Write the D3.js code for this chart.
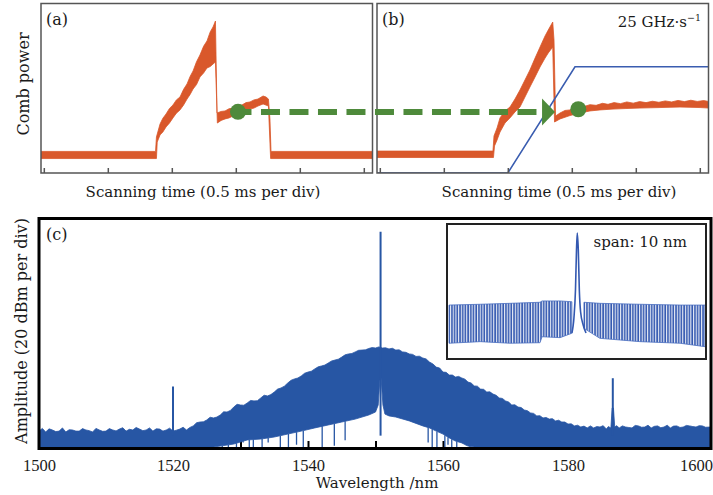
<!DOCTYPE html>
<html>
<head>
<meta charset="utf-8">
<script src="https://cdn.jsdelivr.net/npm/d3@7"></script>
<style>
  html, body { margin: 0; padding: 0; background: #fff; }
  svg { display: block; font-family: "DejaVu Serif", "Liberation Serif", serif; }
</style>
</head>
<body>
<svg id="fig" width="713" height="495"></svg>
<script>
// ---------------- data ----------------
// scanning-time axis (ms), one tick per 0.5 ms division
const scanTicks = [0, 0.5, 1, 1.5, 2, 2.5];

// (a) comb power trace, drawn as the band between its upper and lower noise edges (a.u.)
const aUpT = [-0.022, 0.873, 0.880, 0.908, 0.930, 0.955, 0.982, 1.009, 1.036, 1.064, 1.092, 1.119, 1.143, 1.166, 1.193, 1.220, 1.248, 1.275, 1.300, 1.322, 1.341, 1.353, 1.385, 1.416, 1.447, 1.478, 1.513, 1.548, 1.580, 1.611, 1.642, 1.673, 1.713, 1.736, 1.755, 1.767, 1.775, 2.568];
const aUpV = [0.127, 0.127, 0.212, 0.288, 0.322, 0.347, 0.380, 0.400, 0.430, 0.447, 0.492, 0.524, 0.568, 0.600, 0.654, 0.694, 0.745, 0.777, 0.830, 0.859, 0.894, 0.353, 0.362, 0.365, 0.378, 0.382, 0.394, 0.400, 0.414, 0.418, 0.430, 0.435, 0.453, 0.447, 0.435, 0.312, 0.127, 0.127];
const aLoT = [-0.022, 0.880, 0.886, 0.908, 0.930, 0.955, 0.982, 1.009, 1.036, 1.064, 1.092, 1.119, 1.143, 1.166, 1.193, 1.220, 1.248, 1.275, 1.300, 1.322, 1.341, 1.356, 1.385, 1.416, 1.447, 1.478, 1.513, 1.548, 1.580, 1.611, 1.642, 1.673, 1.713, 1.755, 1.772, 2.568];
const aLoV = [0.085, 0.085, 0.182, 0.224, 0.241, 0.271, 0.294, 0.324, 0.352, 0.371, 0.400, 0.435, 0.462, 0.494, 0.520, 0.565, 0.588, 0.618, 0.626, 0.641, 0.653, 0.294, 0.309, 0.318, 0.324, 0.335, 0.347, 0.359, 0.366, 0.376, 0.382, 0.394, 0.406, 0.394, 0.085, 0.085];

// (b) comb power trace with the 25 GHz/s pump sweep
const bUpT = [-0.022, 0.884, 0.892, 0.916, 0.939, 0.978, 1.017, 1.056, 1.095, 1.134, 1.173, 1.213, 1.252, 1.291, 1.316, 1.351, 1.361, 1.373, 1.408, 1.447, 1.486, 1.525, 1.564, 1.600, 1.642, 1.690, 1.740, 1.783, 1.830, 1.880, 1.930, 1.980, 2.030, 2.080, 2.130, 2.180, 2.230, 2.280, 2.330, 2.380, 2.430, 2.480, 2.530, 2.568];
const bUpV = [0.129, 0.129, 0.218, 0.265, 0.324, 0.365, 0.388, 0.435, 0.488, 0.547, 0.606, 0.676, 0.741, 0.806, 0.841, 0.888, 0.782, 0.335, 0.353, 0.368, 0.371, 0.384, 0.388, 0.392, 0.402, 0.398, 0.410, 0.404, 0.414, 0.408, 0.418, 0.411, 0.420, 0.414, 0.422, 0.416, 0.424, 0.418, 0.427, 0.420, 0.428, 0.421, 0.426, 0.421];
const bLoT = [-0.022, 0.888, 0.896, 0.916, 0.939, 0.978, 1.017, 1.056, 1.095, 1.134, 1.173, 1.213, 1.252, 1.291, 1.316, 1.351, 1.365, 1.408, 1.486, 1.564, 1.642, 1.720, 1.822, 1.916, 2.033, 2.189, 2.345, 2.502, 2.568];
const bLoV = [0.091, 0.091, 0.159, 0.194, 0.241, 0.294, 0.324, 0.359, 0.388, 0.447, 0.506, 0.565, 0.624, 0.676, 0.706, 0.741, 0.300, 0.318, 0.338, 0.353, 0.365, 0.371, 0.376, 0.379, 0.382, 0.385, 0.388, 0.385, 0.382];

// pump frequency sweep (a.u.)
const rampT = [-0.022, 1.0, 1.525, 2.568];
const rampV = [0, 0, 0.625, 0.625];

// soliton-step markers and the transfer arrow
const dotA = { t: 1.517, v: 0.360 };
const dotB = { t: 1.551, v: 0.375 };
const arrowTipT = 1.369;
const arrowV = 0.359;

// (c) optical spectrum: wavelength ticks (nm) and where the axis places them
const wlTicks = [1500, 1520, 1540, 1560, 1580, 1600];
const wlMinor = [1510, 1530, 1550, 1570, 1590];
const wlTickPos = [39, 173, 308, 443, 568, 696];

// upper edge of the comb spectrum [nm, dBm]
const specUpper = [
  [1500, -93.0], [1500.5, -91.8], [1501, -93.4], [1501.5, -92.0], [1502, -92.5], [1502.5, -93.2],
  [1503, -93.0], [1503.5, -91.6], [1504, -93.4], [1504.5, -92.4], [1505, -92.5], [1505.5, -93.0],
  [1506, -93.0], [1506.5, -91.9], [1507, -92.5], [1507.5, -92.8], [1508, -93.4], [1508.5, -91.8],
  [1509, -92.5], [1509.5, -93.1], [1510, -93.0], [1510.5, -91.9], [1511, -92.5], [1511.5, -92.9],
  [1512, -92.1], [1512.5, -91.5], [1513, -93.0], [1513.5, -92.2], [1514, -92.5], [1514.5, -91.4],
  [1515, -92.1], [1515.5, -92.8], [1516, -92.5], [1516.5, -91.6], [1517, -93.0], [1517.5, -92.0],
  [1518, -92.1], [1518.5, -93.0], [1519, -92.5], [1519.5, -91.7], [1520, -93.0], [1520.5, -92.6],
  [1521, -92.1], [1521.5, -91.3], [1522, -92.5], [1522.5, -91.4], [1523, -90.7], [1523.5, -89.3],
  [1524, -89.0], [1524.5, -88.9], [1525, -88.1], [1525.5, -86.9], [1526, -87.2], [1526.5, -86.8],
  [1527, -85.9], [1527.5, -84.5], [1528, -84.6], [1528.5, -83.9], [1529, -82.4], [1529.5, -81.2],
  [1530, -81.5], [1530.5, -81.6], [1531, -80.6], [1531.5, -79.5], [1532, -79.7], [1532.5, -79.6],
  [1533, -78.4], [1533.5, -77.2], [1534, -77.5], [1534.5, -76.9], [1535, -75.8], [1535.5, -74.5],
  [1536, -74.0], [1536.5, -73.2], [1537, -71.8], [1537.5, -70.6], [1538, -70.0], [1538.5, -69.6],
  [1539, -68.7], [1539.5, -67.5], [1540, -67.0], [1540.5, -66.6], [1541, -65.6], [1541.5, -64.7],
  [1542, -64.3], [1542.5, -63.9], [1543, -63.0], [1543.5, -62.1], [1544, -61.7], [1544.5, -61.3],
  [1545, -60.4], [1545.5, -59.4], [1546, -59.0], [1546.5, -58.8], [1547, -58.1], [1547.5, -57.4],
  [1548, -57.3], [1548.5, -57.2], [1549, -56.6], [1549.5, -56.2], [1550, -56.4], [1550.5, -55.9],
  [1551, -56.4], [1551.5, -56.3], [1552, -56.8], [1552.5, -56.5], [1553, -57.3], [1553.5, -57.2],
  [1554, -58.1], [1554.5, -58.3], [1555, -59.0], [1555.5, -59.2], [1556, -60.1], [1556.5, -60.0],
  [1557, -60.8], [1557.5, -61.2], [1558, -62.6], [1558.5, -63.4], [1559, -64.8], [1559.5, -65.2],
  [1560, -67.0], [1560.5, -67.1], [1561, -68.3], [1561.5, -68.3], [1562, -69.2], [1562.5, -68.9],
  [1563, -69.6], [1563.5, -70.1], [1564, -71.4], [1564.5, -71.8], [1565, -73.1], [1565.5, -73.2],
  [1566, -74.5], [1566.5, -74.6], [1567, -75.8], [1567.5, -75.7], [1568, -76.7], [1568.5, -77.2],
  [1569, -78.4], [1569.5, -78.6], [1570, -79.7], [1570.5, -80.2], [1571, -81.5], [1571.5, -81.4],
  [1572, -82.4], [1572.5, -82.6], [1573, -83.7], [1573.5, -84.0], [1574, -85.0], [1574.5, -85.2],
  [1575, -86.3], [1575.5, -86.2], [1576, -87.2], [1576.5, -87.0], [1577, -87.7], [1577.5, -87.5],
  [1578, -88.5], [1578.5, -88.2], [1579, -89.0], [1579.5, -89.0], [1580, -89.9], [1580.5, -89.8],
  [1581, -90.7], [1581.5, -90.4], [1582, -91.2], [1582.5, -90.8], [1583, -91.6], [1583.5, -90.7],
  [1584, -91.6], [1584.5, -91.0], [1585, -91.2], [1585.5, -90.6], [1586, -92.1], [1586.3, -91.0],
  [1586.7, -91.6], [1586.9, -82.8], [1587.1, -82.8], [1587.3, -91.2], [1587.6, -90.6], [1588, -91.6],
  [1588.5, -90.7], [1589, -91.2], [1589.5, -91.4], [1590, -91.6], [1590.5, -90.5], [1591, -90.7],
  [1591.5, -91.3], [1592, -91.2], [1592.5, -90.4], [1593, -91.6], [1593.5, -90.9], [1594, -90.7],
  [1594.5, -91.5], [1595, -91.2], [1595.5, -90.4], [1596, -91.6], [1596.5, -90.8], [1597, -90.7],
  [1597.5, -91.4], [1598, -91.2], [1598.5, -90.5], [1599, -90.7], [1599.5, -91.0], [1600, -91.2],
  [1600.5, -90.6], [1601, -90.7], [1601.5, -91.3], [1602.2, -91.2]
];
// lower edge of the comb spectrum [nm, dBm]; -100 means the trace reaches the bottom of the plot
const specLower = [
  [1500, -100], [1526, -100], [1527, -99.6], [1529, -98.7], [1531, -96.9], [1533, -96.5],
  [1535, -95.6], [1537, -94.3], [1539, -93.0], [1541, -91.6], [1543, -90.3], [1545, -89.0],
  [1547, -87.7], [1548, -86.8], [1549, -85.9], [1550, -84.6], [1550.4, -81.5], [1550.6, -72.7],
  [1550.75, -67.0], [1550.9, -72.7], [1551.1, -81.5], [1551.4, -85.5], [1552, -86.3], [1553, -86.8],
  [1555, -88.5], [1557, -90.7], [1558, -91.6], [1559, -93.0], [1560, -94.3], [1561, -96.0],
  [1562, -97.4], [1563, -98.2], [1564, -99.6], [1565, -100], [1602.2, -100]
];
// drop-outs of the trace below its lower edge [nm, dBm reached]
const dropouts = [
  [1527.3, -100], [1528.2, -100], [1529.4, -100], [1530.4, -98], [1531.3, -100], [1531.9, -100],
  [1533.2, -100], [1534.1, -98], [1535.9, -100], [1537.1, -100], [1538.3, -99], [1539.3, -100],
  [1542.1, -100], [1543.9, -99.5], [1545.5, -97], [1557.8, -98], [1558.4, -100], [1559.1, -100],
  [1560.3, -100], [1560.8, -99], [1561.4, -100], [1562.2, -100], [1563.7, -99], [1564.3, -100], [1565.0, -100]
];
// narrow lines: auxiliary mode, pump, auxiliary mode [nm, dBm]
const spikes = [[1520.0, -73.4], [1550.75, -5.2], [1587.0, -69.7]];

// inset: 10 nm span around the pump
const insetDomain = [1545.8, 1555.8];
const inLeftL = [1545.84, 1547.05, 1548.21, 1549.38, 1549.46, 1550.16, 1550.62];
const inLeftUp = [-60.2, -59.6, -58.9, -58.1, -57.1, -57.1, -57.7];
const inLeftLo = [-88.9, -87.7, -88.9, -88.5, -84.0, -84.7, -81.4];
const inRightL = [1551.09, 1551.71, 1553.27, 1554.83, 1555.8];
const inRightUp = [-58.1, -58.9, -59.6, -60.2, -60.2];
const inRightLo = [-77.7, -85.2, -87.7, -88.9, -91.5];
const inPumpL = [1550.62, 1550.70, 1550.76, 1550.80, 1550.83, 1550.87, 1550.91, 1550.96, 1551.06, 1551.17];
const inPumpV = [-81.2, -69.9, -48.9, -18.8, -6.0, -18.8, -48.9, -65.4, -75.2, -81.2];

// ---------------- drawing ----------------
const ORANGE = "#d9582b", GREEN = "#4e8a3b", BLUE = "#2756a4", RAMP = "#3a5db0", INK = "#1a1a1a";
const svg = d3.select("#fig");
const defs = svg.append("defs");

const band = (x, y, tU, vU, tL, vL) => {
  const pts = tU.map((t, i) => [x(t), y(vU[i])])
    .concat(tL.map((t, i) => [x(t), y(vL[i])]).reverse());
  return d3.line()(pts) + "Z";
};

// ---- scan panels (a), (b)
const timeDomain = [-0.022, 2.568];
const xA = d3.scaleLinear().domain(timeDomain).range([41, 372.5]);
const xB = d3.scaleLinear().domain(timeDomain).range([377, 708.5]);
const yP = d3.scaleLinear().domain([0, 1]).range([173, 3]);

function scanPanel(id, x, upT, upV, loT, loV) {
  const [x0, x1] = x.range();
  defs.append("clipPath").attr("id", "clip-" + id)
    .append("rect").attr("x", x0).attr("y", 3.5).attr("width", x1 - x0).attr("height", 169.5);
  const g = svg.append("g").attr("clip-path", `url(#clip-${id})`);
  g.append("path").attr("d", band(x, yP, upT, upV, loT, loV))
    .attr("fill", ORANGE).attr("stroke", ORANGE).attr("stroke-width", 0.8)
    .attr("stroke-linejoin", "round");
  return g;
}

const gA = scanPanel("a", xA, aUpT, aUpV, aLoT, aLoV);
const gB = scanPanel("b", xB, bUpT, bUpV, bLoT, bLoV);

gB.append("path")
  .attr("d", d3.line().x((d, i) => xB(rampT[i])).y(d => yP(d))(rampV))
  .attr("fill", "none").attr("stroke", RAMP).attr("stroke-width", 1.6);

[xA, xB].forEach(x => {
  const [x0, x1] = x.range();
  svg.append("rect").attr("x", x0).attr("y", 3.5).attr("width", x1 - x0).attr("height", 169.5)
    .attr("fill", "none").attr("stroke", "#555").attr("stroke-width", 1.5);
  const ax = svg.append("g").attr("transform", "translate(0,173)")
    .call(d3.axisBottom(x).tickValues(scanTicks).tickSize(-5).tickFormat(""));
  ax.select(".domain").remove();
  ax.selectAll(".tick line").attr("stroke", "#555").attr("stroke-width", 1.5);
});

// transfer arrow from (a) to (b)
const yArrow = yP(arrowV);
const tipX = xB(arrowTipT);
svg.append("line")
  .attr("x1", xA(dotA.t)).attr("x2", tipX - 12)
  .attr("y1", yArrow).attr("y2", yArrow)
  .attr("stroke", GREEN).attr("stroke-width", 6)
  .attr("stroke-dasharray", "19 9.5").attr("stroke-dashoffset", 5.5);
svg.append("path")
  .attr("d", d3.line()([[tipX, yArrow], [tipX - 13, yArrow - 13.5], [tipX - 13, yArrow + 13.5]]) + "Z")
  .attr("fill", GREEN);
svg.append("circle").attr("cx", xA(dotA.t)).attr("cy", yP(dotA.v)).attr("r", 8).attr("fill", GREEN);
svg.append("circle").attr("cx", xB(dotB.t)).attr("cy", yP(dotB.v)).attr("r", 8).attr("fill", GREEN);

const label = (x, y, s, size, anchor) => svg.append("text")
  .attr("x", x).attr("y", y).attr("font-size", size).attr("fill", INK)
  .attr("text-anchor", anchor || "start").text(s);

label(46, 25, "(a)", 16);
label(382, 25, "(b)", 16);
const rate = svg.append("text").attr("x", 701).attr("y", 27).attr("font-size", 15)
  .attr("fill", INK).attr("text-anchor", "end");
rate.append("tspan").text("25 GHz\u00b7s");
rate.append("tspan").attr("dy", -6).attr("font-size", 9.5).text("\u22121");

label(203, 197, "Scanning time (0.5 ms per div)", 15, "middle");
label(559, 197, "Scanning time (0.5 ms per div)", 15, "middle");
svg.append("text").attr("transform", "translate(29,84) rotate(-90)")
  .attr("text-anchor", "middle").attr("font-size", 16).attr("fill", INK).text("Comb power");

// ---- spectrum panel (c)
const xC = d3.scaleLinear().domain(wlTicks).range(wlTickPos);
const yC = d3.scaleLinear().domain([-100, 0]).range([447, 220]);

defs.append("clipPath").attr("id", "clip-c")
  .append("rect").attr("x", 40).attr("y", 219.5).attr("width", 670).attr("height", 227.5);

// inward ticks sit beneath the trace
const tk = svg.append("g").attr("transform", "translate(0,447)")
  .call(d3.axisBottom(xC).tickValues(wlTicks.concat(wlMinor)).tickSize(-6).tickFormat(""));
tk.select(".domain").remove();
tk.selectAll(".tick line").attr("stroke", "#000").attr("stroke-width", 2);

const gC = svg.append("g").attr("clip-path", "url(#clip-c)");
const edge = d3.line().x(d => xC(d[0])).y(d => yC(d[1]));
gC.append("path").attr("d", edge(specUpper.concat(specLower.slice().reverse())) + "Z")
  .attr("fill", BLUE).attr("stroke", BLUE).attr("stroke-width", 0.8);

const loAt = d3.scaleLinear().domain(specLower.map(d => d[0])).range(specLower.map(d => d[1]));
gC.selectAll("line.drop").data(dropouts).join("line").attr("class", "drop")
  .attr("x1", d => xC(d[0])).attr("x2", d => xC(d[0]))
  .attr("y1", d => yC(loAt(d[0]))).attr("y2", d => yC(d[1]))
  .attr("stroke", BLUE).attr("stroke-width", 1.3);

gC.selectAll("line.spike").data(spikes).join("line").attr("class", "spike")
  .attr("x1", d => xC(d[0])).attr("x2", d => xC(d[0]))
  .attr("y1", yC(-95)).attr("y2", d => yC(d[1]))
  .attr("stroke", BLUE).attr("stroke-width", 2);

// inset
const xI = d3.scaleLinear().domain(insetDomain).range([448, 705]);
const yI = d3.scaleLinear().domain([-100, 0]).range([358, 225]);
const pat = defs.append("pattern").attr("id", "combLines")
  .attr("patternUnits", "userSpaceOnUse").attr("width", 2.7).attr("height", 6);
pat.append("rect").attr("width", 2.7).attr("height", 6).attr("fill", "#fff");
pat.append("rect").attr("x", 0.2).attr("width", 1.7).attr("height", 6).attr("fill", "#3358b0");

svg.append("rect").attr("x", 447).attr("y", 224).attr("width", 259).attr("height", 135)
  .attr("fill", "#fff");
defs.append("clipPath").attr("id", "clip-in")
  .append("rect").attr("x", 448).attr("y", 225).attr("width", 257).attr("height", 133);
const gI = svg.append("g").attr("clip-path", "url(#clip-in)");
[[inLeftL, inLeftUp, inLeftLo], [inRightL, inRightUp, inRightLo]].forEach(([L, U, D]) => {
  gI.append("path").attr("d", band(xI, yI, L, U, L, D))
    .attr("fill", "url(#combLines)").attr("stroke", "#4a6fc0").attr("stroke-width", 0.8);
});
gI.append("path")
  .attr("d", d3.line().x((d, i) => xI(inPumpL[i])).y(d => yI(d)).curve(d3.curveMonotoneX)(inPumpV))
  .attr("fill", "none").attr("stroke", "#3358b0").attr("stroke-width", 1.6);
svg.append("rect").attr("x", 447).attr("y", 224).attr("width", 259).attr("height", 135)
  .attr("fill", "none").attr("stroke", "#222").attr("stroke-width", 2);
label(687, 247, "span: 10 nm", 15, "end");

// frame and wavelength labels
svg.append("rect").attr("x", 39).attr("y", 218.5).attr("width", 672).attr("height", 230)
  .attr("fill", "none").attr("stroke", "#000").attr("stroke-width", 3);
const axC = svg.append("g").attr("transform", "translate(0,448.5)")
  .call(d3.axisBottom(xC).tickValues(wlTicks).tickSize(0).tickFormat(d3.format("d")));
axC.select(".domain").remove();
axC.selectAll(".tick text").attr("y", 22).attr("dy", null)
  .attr("font-family", "Liberation Serif, serif").attr("font-size", 16.5).attr("fill", INK);

label(46, 240, "(c)", 16);
label(377, 488, "Wavelength /nm", 15, "middle");
svg.append("text").attr("transform", "translate(27,331) rotate(-90)")
  .attr("text-anchor", "middle").attr("font-size", 16).attr("fill", INK)
  .text("Amplitude (20 dBm per div)");
</script>
</body>
</html>
